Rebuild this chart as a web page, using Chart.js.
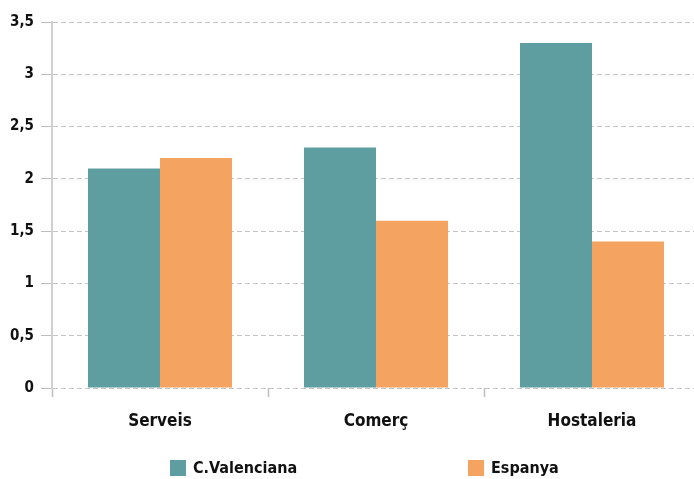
<!DOCTYPE html>
<html>
<head>
<meta charset="utf-8">
<script src="https://cdn.jsdelivr.net/npm/chart.js@4/dist/chart.umd.min.js"></script>
<style>
  html, body { margin: 0; padding: 0; background: #fff; overflow: hidden; }
  #wrap { width: 700px; height: 479px; }
</style>
</head>
<body>
<div id="wrap"><canvas id="myChart"></canvas></div>
<script>
const categories = ['Serveis', 'Comerç', 'Hostaleria'];
const valenciana = [2.1, 2.3, 3.3];
const espanya = [2.2, 1.6, 1.4];
const seriesNames = ['C.Valenciana', 'Espanya'];

const FONT = "'Liberation Sans Narrow', 'DejaVu Sans Condensed', 'Arial Narrow', sans-serif";

// legend drawn by hand so the two items can sit far apart like the original
const spreadLegend = {
  id: 'spreadLegend',
  afterDraw(chart) {
    const ctx = chart.ctx;
    const spots = [170, 468];
    ctx.save();
    ctx.font = 'bold 16px ' + FONT;
    ctx.textBaseline = 'middle';
    chart.data.datasets.forEach(function(ds, i) {
      ctx.fillStyle = ds.backgroundColor;
      ctx.fillRect(spots[i], 460, 16, 16);
      ctx.fillStyle = '#111';
      ctx.fillText(ds.label, spots[i] + 23, 469);
    });
    ctx.restore();
  }
};

const data = {
  labels: categories,
  datasets: [{
    label: seriesNames[0],
    backgroundColor: '#5f9ea0',
    data: valenciana,
  }, {
    label: seriesNames[1],
    backgroundColor: '#f4a460',
    data: espanya,
  }]
};

const config = {
  type: 'bar',
  data,
  options: {
    responsive: true,
    maintainAspectRatio: false,
    animation: false,
    layout: { padding: { left: 4, top: 22, right: 0, bottom: 48 } },
    datasets: { bar: { categoryPercentage: 2 / 3, barPercentage: 1 } },
    plugins: {
      legend: { display: false },
      tooltip: { enabled: false }
    },
    scales: {
      x: {
        afterFit: function(scale) { scale.height = 43; },
        grid: {
          drawOnChartArea: false,
          tickLength: 9,
          tickColor: '#bdbdbd',
          tickWidth: 1.5
        },
        border: { display: false },
        ticks: {
          padding: 14,
          color: '#111',
          font: { family: FONT, size: 17, weight: 'bold' }
        }
      },
      y: {
        min: 0,
        max: 3.5,
        afterFit: function(scale) { scale.width = 48; },
        grid: {
          color: '#c4c4c4',
          tickLength: 11,
          tickColor: '#bdbdbd',
          tickBorderDash: [],
          lineWidth: 1
        },
        border: { display: true, color: '#d0d0d0', width: 2, dash: [5, 3] },
        ticks: {
          stepSize: 0.5,
          padding: 7,
          color: '#111',
          font: { family: FONT, size: 15, weight: 'bold' },
          // decimal comma like the original
          callback: function(value) {
            return String(value).replace('.', ',');
          }
        }
      }
    }
  },
  plugins: [spreadLegend]
};

var myChart = new Chart(document.getElementById('myChart'), config);
</script>
</body>
</html>
